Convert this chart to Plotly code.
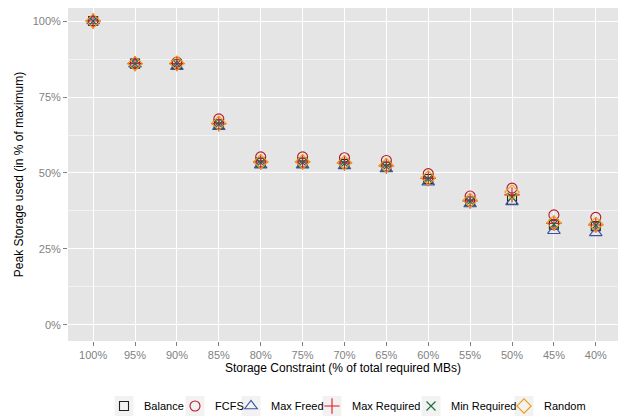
import plotly.graph_objects as go

categories = ["100%", "95%", "90%", "85%", "80%", "75%", "70%", "65%", "60%", "55%", "50%", "45%", "40%"]
y_ticks = [0, 25, 50, 75, 100]
y_tick_labels = ["0%", "25%", "50%", "75%", "100%"]

balance      = [100, 86.0, 85.8, 66.0, 53.4, 53.4, 53.0, 52.1, 48.0, 40.6, 41.2, 33.0, 32.5]
fcfs         = [100, 86.2, 86.5, 67.8, 55.3, 55.3, 55.0, 54.1, 49.8, 42.4, 45.0, 36.2, 35.4]
max_freed    = [100, 85.8, 85.0, 65.2, 52.6, 52.6, 52.3, 51.3, 47.0, 39.8, 40.5, 31.0, 30.3]
max_required = [100, 86.0, 86.0, 66.2, 53.6, 53.6, 53.3, 52.3, 48.2, 40.8, 42.8, 33.4, 32.9]
min_required = [100, 86.0, 85.9, 66.0, 53.4, 53.4, 53.1, 52.1, 48.0, 40.6, 42.0, 33.2, 32.8]
random_      = [100, 86.0, 86.1, 66.4, 53.7, 53.7, 53.4, 52.5, 48.4, 41.0, 43.7, 33.6, 33.1]

series = [
    ("Balance", balance, "square-open", "#222222", 9),
    ("FCFS", fcfs, "circle-open", "#B2182B", 10),
    ("Max Freed", max_freed, "triangle-up-open", "#3953A4", 11),
    ("Max Required", max_required, "cross-thin-open", "#E8141C", 11),
    ("Min Required", min_required, "x-thin-open", "#1A6B3A", 9),
    ("Random", random_, "diamond-open", "#F39C12", 11),
]

# layout: legend key centres in pixels (one legend per series)
W, H = 623, 416
ML, MR, MT, MB = 68, 5, 8, 75
key_px = [124, 195, 251, 332, 431, 524]
key_py = 406
PW, PH = W - ML - MR, H - MT - MB

fig = go.Figure()
legend_layouts = {}
shapes = []
for i, ((name, vals, sym, col, sz), kx) in enumerate(zip(series, key_px)):
    lname = "legend" if i == 0 else f"legend{i+1}"
    fig.add_trace(go.Scatter(
        x=categories, y=vals, mode="markers", name=name, legend=lname,
        marker=dict(symbol=sym, size=sz, color=col, line=dict(width=1.1, color=col)),
    ))
    legend_layouts[lname] = dict(
        orientation="h", xref="container", yref="container",
        x=(kx - 20) / W, xanchor="left", y=1 - key_py / H, yanchor="middle",
        font=dict(size=11, color="black"), bgcolor="rgba(0,0,0,0)",
        itemwidth=30, borderwidth=0,
    )
    shapes.append(dict(
        type="rect", xref="paper", yref="paper", layer="above",
        x0=(kx - 9.5 - ML) / PW, x1=(kx + 9.5 - ML) / PW,
        y0=(H - MB - (key_py + 10)) / PH, y1=(H - MB - (key_py - 10)) / PH,
        fillcolor="#F2F2F2", line=dict(width=0),
    ))

tick_font = dict(family="Liberation Sans, Arial, sans-serif", size=11, color="#7F7F7F")
fig.update_layout(
    width=W, height=H,
    margin=dict(l=ML, r=MR, t=MT, b=MB),
    paper_bgcolor="white", plot_bgcolor="#E5E5E5",
    font=dict(family="Liberation Sans, Arial, sans-serif", size=12, color="black"),
    showlegend=True,
    shapes=shapes,
    xaxis=dict(
        type="category", categoryorder="array", categoryarray=categories,
        range=[-0.6, 12.53], showgrid=True, gridcolor="white", gridwidth=1.2,
        ticks="outside", ticklen=4, tickcolor="#7F7F7F", tickfont=tick_font,
        showline=False, zeroline=False,
        title=dict(text="Storage Constraint (% of total required MBs)", standoff=2,
                   font=dict(size=12, color="black")),
    ),
    yaxis=dict(
        range=[-5.3, 104.3], tickvals=y_ticks, ticktext=y_tick_labels,
        showgrid=True, gridcolor="white", gridwidth=1.2,
        minor=dict(tickvals=[12.5, 37.5, 62.5, 87.5], showgrid=True, gridcolor="#F2F2F2", gridwidth=0.6, ticks=""),
        ticks="outside", ticklen=4, tickcolor="#7F7F7F", tickfont=tick_font,
        showline=False, zeroline=False,
        title=dict(text="Peak Storage used (in % of maximum)", standoff=6,
                   font=dict(size=12, color="black")),
    ),
)
fig.update_layout(**legend_layouts)

fig.write_html("out.html")
